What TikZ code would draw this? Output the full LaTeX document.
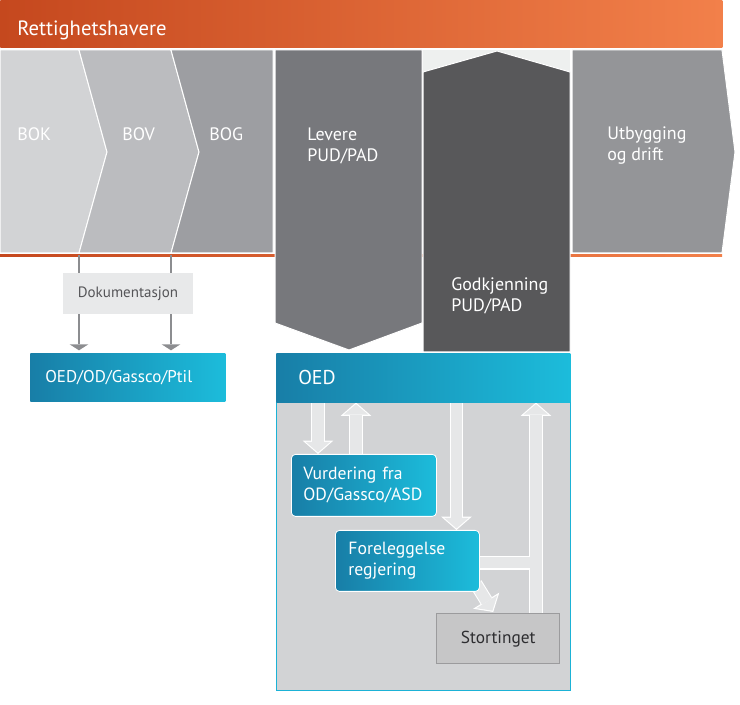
\documentclass[tikz,border=0pt]{standalone}
\usepackage{fontspec}
\setmainfont{PT Sans}
\usetikzlibrary{arrows.meta,positioning,calc,backgrounds}
\definecolor{orleft}{RGB}{197,72,30}
\definecolor{orright}{RGB}{242,128,74}
\definecolor{bokgray}{RGB}{210,211,213}
\definecolor{bovgray}{RGB}{187,188,191}
\definecolor{boggray}{RGB}{157,158,162}
\definecolor{levgray}{RGB}{119,120,124}
\definecolor{godgray}{RGB}{88,88,90}
\definecolor{utbgray}{RGB}{148,149,152}
\definecolor{paleback}{RGB}{238,240,239}
\definecolor{blueleft}{RGB}{24,126,167}
\definecolor{blueright}{RGB}{28,188,219}
\definecolor{bodygray}{RGB}{210,211,213}
\definecolor{bodyedge}{RGB}{27,178,214}
\definecolor{arrowfill}{RGB}{230,231,232}
\definecolor{dokfill}{RGB}{232,233,234}
\definecolor{dokink}{RGB}{85,85,88}
\definecolor{linegray}{RGB}{140,141,144}
\definecolor{storfill}{RGB}{198,198,199}
\definecolor{stordraw}{RGB}{155,155,157}
\definecolor{storink}{RGB}{45,45,48}
\tikzset{
  stage/.style={fill=#1,draw=white,line width=0.75pt},
  stagelabel/.style={text=white,font=\fontsize{13.5}{15.75}\selectfont,align=left,
    anchor=west,inner sep=0pt},
  bluebox/.style={left color=blueleft,right color=blueright,text=white,align=left,
    font=\fontsize{13.25}{15.75}\selectfont,anchor=north west,inner ysep=0pt},
  panel/.style={bluebox,rounded corners=3pt,draw=white,line width=0.6pt},
  dokbox/.style={fill=dokfill,text=dokink,font=\fontsize{11.25}{13}\selectfont,
    minimum width=97.5pt,minimum height=30.75pt},
  greybox/.style={fill=storfill,draw=stordraw,line width=1.1pt,text=storink,
    font=\fontsize{13}{15}\selectfont,anchor=north west,
    minimum width=92.25pt,minimum height=37.5pt},
  docline/.style={draw=linegray,line width=1.1pt,shorten >=2pt,
    -{Triangle[width=14pt,length=4.5pt,line width=0pt]}},
  fatedge/.style={draw=white,line width=10pt,
    -{Triangle[width=23pt,length=10pt,line width=0pt]}},
  fatcore/.style={draw=arrowfill,line width=8.4pt,shorten >=1.2pt,
    -{Triangle[width=18.5pt,length=7.9pt,line width=0pt]}},
}
\begin{document}
\begin{tikzpicture}[x=0.75pt,y=-0.75pt]
\useasboundingbox (0,0) rectangle (740,705);

% rights holders bar
\node[anchor=north west,left color=orleft,right color=orright,text=white,
  minimum width=541.5pt,minimum height=35.25pt,text width=516pt,inner xsep=12.75pt,
  align=left,font=\fontsize{15.5}{18}\selectfont] (rett) at (0,0)
  {\raisebox{-3pt}[11pt][0pt]{Rettighetshavere}};

% phases
\shade[left color=orleft,right color=orright] (0,255) rectangle (722,257);
\fill[paleback] (423,50) rectangle (570,80);
\path[stage=bokgray] (0,50) -- (79,50) -- (107,152) -- (79,253) -- (0,253) -- cycle;
\path[stage=bovgray] (79,50) -- (171,50) -- (199,152) -- (171,253) -- (79,253) -- (107,152) -- cycle;
\path[stage=boggray] (171,50) -- (273,50) -- (273,253) -- (171,253) -- (199,152) -- cycle;
\path[stage=levgray] (275,50) -- (422,50) -- (422,323) -- (349,350) -- (275,323) -- cycle;
\path[stage=godgray] (423,72) -- (497,51) -- (570,72) -- (570,352) -- (423,352) -- cycle;
\path[stage=utbgray] (572,50) -- (722,50) -- (735,152) -- (722,253) -- (572,253) -- cycle;

\node[stagelabel] (bok) at (17,134) {BOK};
\node[stagelabel] (bov) at (122,134) {BOV};
\node[stagelabel] (bog) at (209,134) {BOG};
\node[stagelabel] (levere) at (307,146) {Levere\\PUD/PAD};
\node[stagelabel] (utbygg) at (607,146) {Utbygging\\og drift};
\node[stagelabel] (godkj) at (451,296) {Godkjenning\\PUD/PAD};

% documentation
\coordinate (bokfoot) at (79,255);
\coordinate (bovfoot) at (171,255);
\node[bluebox,minimum width=146.25pt,minimum height=36pt,text width=123.75pt,
  inner xsep=11.25pt,font=\fontsize{12.75}{15}\selectfont] (oedod) at (30,353) {OED/OD/Gassco/Ptil};
\draw[docline] (bokfoot) -- (bokfoot |- oedod.north);
\draw[docline] (bovfoot) -- (bovfoot |- oedod.north);
\node[dokbox] (dok) at (128,294) {Dokumentasjon};

% ministry
\node[bluebox,minimum width=220.5pt,minimum height=36.75pt,text width=187.5pt,
  inner xsep=16.5pt,font=\fontsize{15}{17}\selectfont] (oed) at (276,353) {OED};
\node[panel,minimum width=108.75pt,minimum height=46.5pt,text width=90.75pt,
  inner xsep=9pt] (vurd) at (291,454) {Vurdering fra\\OD/Gassco/ASD};
\node[panel,minimum width=108pt,minimum height=45.75pt,text width=88.5pt,
  inner xsep=9.75pt] (forel) at (335,530) {Foreleggelse\\regjering};
\node[greybox] (storting) at (436,613) {Stortinget};

\begin{scope}[on background layer]
  \path[fill=bodygray,draw=bodyedge,line width=0.75pt]
    (oed.south west) rectangle ($(oed.south east)+(0,288)$);
  \coordinate (dn1) at ($(vurd.north west)+(27,0)$);
  \coordinate (up1) at ($(vurd.north west)+(65,0)$);
  \coordinate (dn2) at ($(forel.north west)+(121.5,0)$);
  \coordinate (upr) at ($(storting.north east)+(-24.5,0)$);
  \coordinate (bar) at ($(forel.east)+(0,2)$);
  \coordinate (diag) at ($(forel.south east)+(-4,-8)$);
  \coordinate (diagtip) at ($(storting.north)+(-5,-1)$);
  \foreach \layer in {fatedge,fatcore}{
    \draw[\layer] (dn1 |- oed.south) -- (dn1);
    \draw[\layer] (up1) -- (up1 |- oed.south);
    \draw[\layer] (dn2 |- oed.south) -- (dn2);
    \draw[\layer] (upr) -- (upr |- oed.south);
    \draw[\layer,-] (bar) -- (bar -| upr);
    \draw[\layer] (diag) -- (diagtip);
  }
\end{scope}
\end{tikzpicture}
\end{document}
